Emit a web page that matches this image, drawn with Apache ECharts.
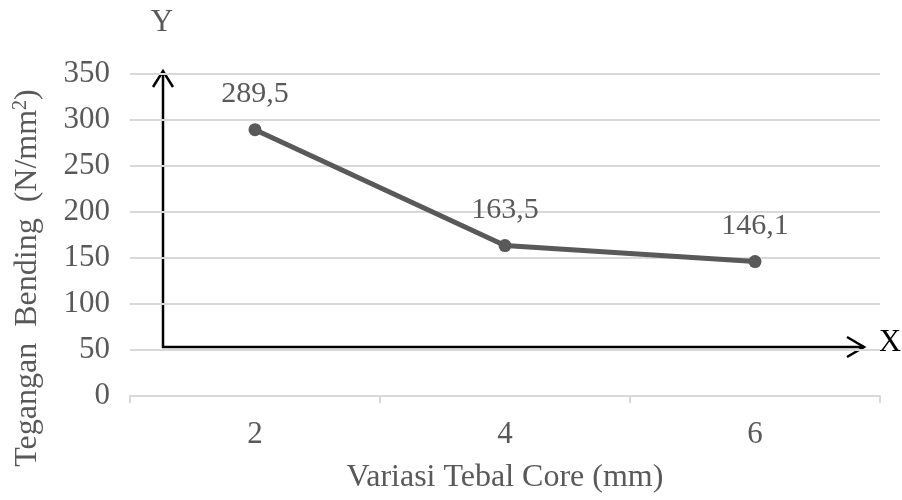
<!DOCTYPE html>
<html>
<head>
<meta charset="utf-8">
<script src="https://cdn.jsdelivr.net/npm/echarts@6/dist/echarts.min.js"></script>
<style>
  html, body { margin: 0; padding: 0; background: #fff; }
  #chart { width: 902px; height: 500px; }
</style>
</head>
<body>
<div id="chart"></div>
<script>
// data
var categories = ['2', '4', '6'];
var values = [289.5, 163.5, 146.1];
var yTicks = { min: 0, max: 350, interval: 50 };

var FONT = '"Liberation Serif", "Times New Roman", serif';
var GREY = '#595959';

var chart = echarts.init(document.getElementById('chart'));

var option = {
    backgroundColor: '#fff',
    animation: false,
    textStyle: { fontFamily: FONT },
    grid: { left: 130, right: 22, top: 74, bottom: 104 },
    xAxis: {
        type: 'category',
        data: categories,
        boundaryGap: true,
        name: 'Variasi Tebal Core (mm)',
        nameLocation: 'middle',
        nameGap: 66,
        nameTextStyle: { fontFamily: FONT, fontSize: 32, color: GREY },
        axisLine: { lineStyle: { color: '#d9d9d9', width: 2 } },
        axisTick: { show: true, length: 7, lineStyle: { color: '#d9d9d9', width: 2 } },
        axisLabel: { fontFamily: FONT, fontSize: 31, color: GREY, margin: 23 }
    },
    yAxis: {
        type: 'value',
        min: yTicks.min,
        max: yTicks.max,
        interval: yTicks.interval,
        axisLine: { show: false },
        axisTick: { show: false },
        axisLabel: { fontFamily: FONT, fontSize: 31, color: GREY, margin: 20 },
        splitLine: { lineStyle: { color: '#d9d9d9', width: 2 } }
    },
    series: [{
        type: 'line',
        data: values,
        symbol: 'circle',
        symbolSize: 13,
        lineStyle: { color: GREY, width: 5 },
        itemStyle: { color: GREY },
        label: {
            show: true,
            position: 'top',
            distance: 14,
            fontFamily: FONT,
            fontSize: 30,
            color: GREY,
            formatter: function (p) {
                return String(p.value).replace('.', ',');
            }
        }
    }],
    graphic: [
        // Y axis title with superscript
        {
            type: 'text',
            x: 28, y: 278,
            rotation: Math.PI / 2,
            style: {
                text: 'Tegangan  Bending  (N/mm{sup|2})',
                font: '32px ' + FONT,
                fill: GREY,
                align: 'center',
                verticalAlign: 'middle',
                rich: {
                    sup: { fontSize: 20, fontFamily: FONT, fill: GREY, verticalAlign: 'top', padding: [0, 0, 14, 0] }
                }
            }
        },
        // Y arrow
        {
            type: 'polyline',
            shape: { points: [[163, 348], [163, 72]] },
            style: { stroke: '#000', lineWidth: 2.5, fill: null }
        },
        {
            type: 'polyline',
            shape: { points: [[153, 87], [163, 71], [173, 87]] },
            style: { stroke: '#000', lineWidth: 2.5, fill: null }
        },
        // X arrow
        {
            type: 'polyline',
            shape: { points: [[162, 347], [864, 347]] },
            style: { stroke: '#000', lineWidth: 2.5, fill: null }
        },
        {
            type: 'polyline',
            shape: { points: [[847, 337], [864, 347], [847, 357]] },
            style: { stroke: '#000', lineWidth: 2.5, fill: null }
        },
        {
            type: 'text',
            x: 162, y: 23,
            style: { text: 'Y', font: '31px ' + FONT, fill: GREY, align: 'center', verticalAlign: 'middle' }
        },
        {
            type: 'text',
            x: 890, y: 343,
            style: { text: 'X', font: '31px ' + FONT, fill: '#000', align: 'center', verticalAlign: 'middle' }
        }
    ]
};

chart.setOption(option);
</script>
</body>
</html>
